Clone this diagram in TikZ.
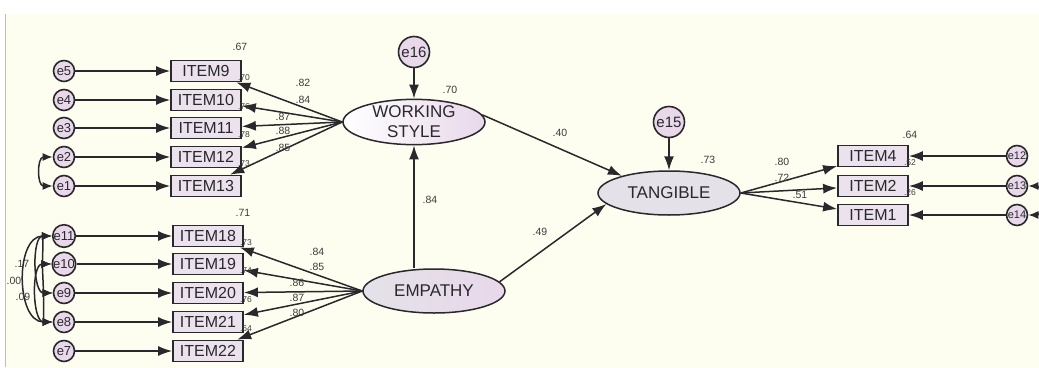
\documentclass[tikz,border=0pt]{standalone}
\usepackage{fontspec}
\setmainfont{Liberation Sans}
\usetikzlibrary{arrows.meta,shapes.geometric}
\definecolor{paper}{RGB}{254,254,240}
\definecolor{boxfill}{RGB}{236,226,238}
\definecolor{errfill}{RGB}{232,216,234}
\definecolor{latfill}{RGB}{228,226,232}
\definecolor{ink}{RGB}{40,40,45}
\definecolor{numgray}{RGB}{60,60,60}

\begin{document}
\begin{tikzpicture}[x=1pt, y=-1pt,
  item/.style={draw=ink, line width=1.7pt, fill=boxfill, minimum width=70pt, minimum height=21pt,
    inner sep=0pt, text=ink, font=\fontsize{16}{16}\selectfont},
  err/.style={circle, draw=ink, line width=1.6pt, fill=errfill, minimum size=21pt, inner sep=0pt,
    text=ink, font=\fontsize{13}{13}\selectfont},
  bigerr/.style={err, minimum size=31pt, font=\fontsize{15}{15}\selectfont},
  tinyerr/.style={err, font=\fontsize{11}{11}\selectfont},
  latent/.style={ellipse, draw=ink, line width=1.5pt, minimum width=142pt, minimum height=44pt,
    inner sep=0pt, text=ink, align=center, font=\fontsize{17}{20}\selectfont},
  arr/.style={draw=ink, line width=1.5pt, -{Latex[length=14pt,width=10pt]}},
  cov/.style={draw=ink, line width=1.5pt, {Latex[length=10pt,width=8pt]}-{Latex[length=10pt,width=8pt]}},
  num/.style={inner sep=0pt, text=numgray, font=\fontsize{10.5}{10.5}\selectfont},
  rsq/.style={inner sep=0pt, text=numgray, font=\fontsize{8.5}{8.5}\selectfont}]

\useasboundingbox (0,0) rectangle (1039,367);
\fill[white] (0,0) rectangle (1039,367);
\fill[paper] (6,14) rectangle (1039,367);
\draw[gray!50, line width=1pt] (5,14) -- (5,367);

%latent variables
\node[latent, left color=white, right color=errfill] (ws) at (414,122) {WORKING\\STYLE};
\node[latent, left color=latfill, right color=errfill] (emp) at (434,291) {EMPATHY};
\node[latent, fill=latfill] (tan) at (669,193) {TANGIBLE};
\node[bigerr] (e16) at (414,52) {e16};
\node[bigerr] (e15) at (669,122) {e15};

%working style items
\foreach \i/\e/\y in {9/5/71, 10/4/100, 11/3/128, 12/2/157, 13/1/186} {
  \node[item] (item\i) at (206,\y) {ITEM\i};
  \node[err] (e\e) at (64,\y) {e\e};
  \draw[arr] (e\e) -- (item\i);
  \draw[arr] (ws.west) -- (item\i);
}

%empathy items
\foreach \i/\e/\y in {18/11/236, 19/10/264, 20/9/293, 21/8/322, 22/7/351} {
  \node[item] (item\i) at (208,\y) {ITEM\i};
  \node[err] (e\e) at (64,\y) {e\e};
  \draw[arr] (e\e) -- (item\i);
  \draw[arr] (emp.west) -- (item\i);
}

%tangible items
\foreach \i/\e/\y in {4/12/156, 2/13/186, 1/14/215} {
  \node[item] (item\i) at (873,\y) {ITEM\i};
  \node[tinyerr] (e\e) at (1017,\y) {e\e};
  \draw[arr] (e\e) -- (item\i);
  \draw[arr] (tan.east) -- (item\i);
}

%structural paths
\draw[arr] (e16) -- (ws);
\draw[arr] (e15) -- (tan);
\draw[arr] (ws.south |- emp.north) -- (ws.south);
\draw[arr] (ws.6) -- (tan.160);
\draw[arr] (emp.8) -- (tan.190);

%covariances
\draw[cov] (e2.west) to[out=180, in=180, looseness=1.4] (e1.west);
\draw[cov] (e11.west) to[out=180, in=180, looseness=1.1] (e8.west);
\draw[cov] (e11.west) to[out=180, in=180, looseness=0.9] (e9.west);
\draw[cov] (e10.west) to[out=180, in=180, looseness=0.9] (e8.west);
\draw[cov] (e11.west) to[out=180, in=180, looseness=0.8] (e10.west);
\draw[cov] (e10.west) to[out=180, in=180, looseness=0.8] (e9.west);
\draw[cov] (e9.west) to[out=180, in=180, looseness=0.8] (e8.west);
\draw[cov] (e13.east) to[out=0, in=0, looseness=1.2] (e14.east);

%estimates
\foreach \v/\x/\y [count=\k] in {.67/240/47, .82/303/83, .84/303/100, .87/283/117, .88/283/131, .85/283/148,
    .70/450/90, .40/560/133, .84/430/200, .49/540/232, .71/243/213,
    .84/317/252, .85/317/267, .86/297/283, .87/297/298, .80/297/313,
    .73/708/160, .64/910/135, .80/782/162, .72/782/178, .51/800/195,
    .17/22/264, .00/14/281, .09/23/297}
  \node[num] (est\k) at (\x,\y) {\v};
\foreach \v/\x/\y [count=\k] in {.70/244/78, .76/244/107, .78/244/135, .73/244/164,
    .73/246/243, .74/246/271, .76/246/300, .64/246/329, .52/910/163, .26/910/193}
  \node[rsq] (rsq\k) at (\x,\y) {\v};

\end{tikzpicture}
\end{document}
